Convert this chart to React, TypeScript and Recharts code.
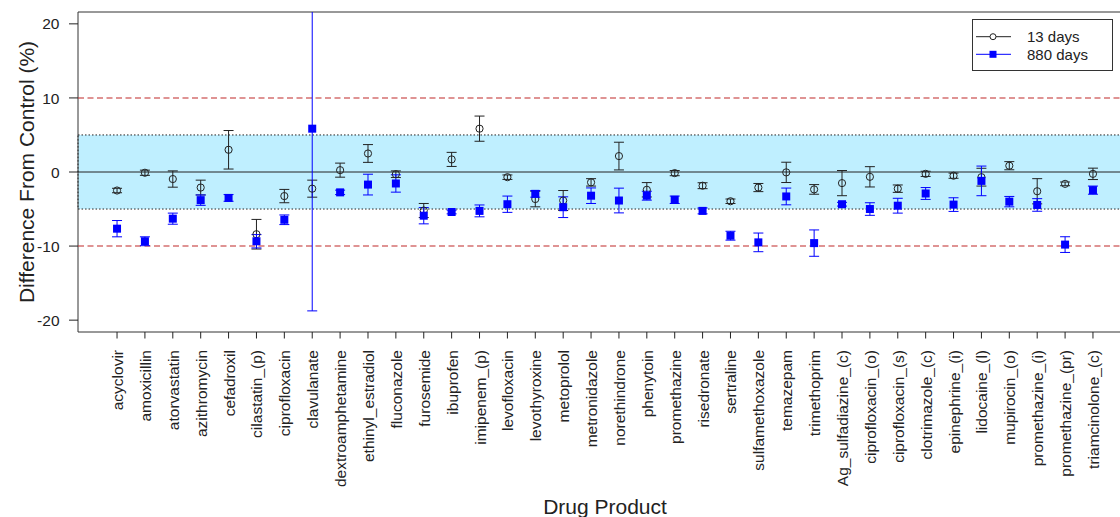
import {
  ComposedChart, Scatter, ErrorBar, XAxis, YAxis, ReferenceArea, ReferenceLine, Legend,
} from 'recharts'

const FONT = '"Liberation Sans", Arial, sans-serif'
const INK = '#222'
const BLUE = '#0000FF'
const BAND = '#BFEFFF'
const LIMIT_RED = '#C02828'

const drugs = [
  'acyclovir', 'amoxicillin', 'atorvastatin', 'azithromycin', 'cefadroxil', 'cilastatin_(p)',
  'ciprofloxacin', 'clavulanate', 'dextroamphetamine', 'ethinyl_estradiol', 'fluconazole', 'furosemide',
  'ibuprofen', 'imipenem_(p)', 'levofloxacin', 'levothyroxine', 'metoprolol', 'metronidazole',
  'norethindrone', 'phenytoin', 'promethazine', 'risedronate', 'sertraline', 'sulfamethoxazole',
  'temazepam', 'trimethoprim', 'Ag_sulfadiazine_(c)', 'ciprofloxacin_(o)', 'ciprofloxacin_(s)', 'clotrimazole_(c)',
  'epinephrine_(i)', 'lidocaine_(l)', 'mupirocin_(o)', 'promethazine_(i)', 'promethazine_(pr)', 'triamcinolone_(c)',
]

// 13 days: mean difference and error half-width (%)
const mean13 = [
  -2.5, -0.1, -0.95, -2.1, 3.0, -8.4,
  -3.25, -2.25, 0.25, 2.5, -0.3, -5.2,
  1.7, 5.85, -0.7, -3.65, -3.85, -1.4,
  2.15, -2.4, -0.15, -1.85, -3.95, -2.1,
  -0.05, -2.35, -1.5, -0.65, -2.25, -0.25,
  -0.5, -0.7, 0.85, -2.6, -1.6, -0.25,
]
const err13 = [
  0.3, 0.35, 1.1, 1.0, 2.6, 2.0,
  0.9, 1.15, 0.95, 1.2, 0.45, 0.95,
  0.95, 1.7, 0.3, 1.05, 1.35, 0.5,
  1.87, 0.97, 0.35, 0.4, 0.3, 0.55,
  1.37, 0.65, 1.7, 1.37, 0.5, 0.35,
  0.35, 1.2, 0.55, 1.7, 0.25, 0.77,
]

// 880 days
const mean880 = [
  -7.65, -9.35, -6.3, -3.8, -3.5, -9.35,
  -6.45, 5.85, -2.75, -1.7, -1.55, -5.9,
  -5.4, -5.25, -4.35, -2.95, -4.75, -3.2,
  -3.85, -3.2, -3.75, -5.25, -8.6, -9.5,
  -3.3, -9.6, -4.35, -5.0, -4.55, -2.9,
  -4.4, -1.2, -4.0, -4.45, -9.8, -2.45,
]
const err880 = [
  1.1, 0.6, 0.75, 0.7, 0.45, 0.9,
  0.65, 24.6, 0.3, 1.4, 1.17, 1.1,
  0.25, 0.8, 1.1, 0.45, 1.4, 1.05,
  1.67, 0.6, 0.5, 0.4, 0.6, 1.26,
  1.13, 1.78, 0.25, 0.85, 1.0, 0.8,
  0.92, 2.0, 0.7, 0.85, 1.06, 0.55,
]

const yTicks = [-20, -10, 0, 10, 20]

const rows = drugs.map((name, i) => ({
  x: i + 1, name,
  m13: mean13[i], e13: err13[i],
  m880: mean880[i], e880: err880[i],
}))
const xTicks = rows.map(r => r.x)

const XTick = ({ x, y, payload }: any) => (
  <text x={x + 6} y={y} transform={`rotate(-90, ${x + 6}, ${y})`} textAnchor="end"
    fontFamily={FONT} fontSize={15.5} fill={INK}>
    {drugs[payload.value - 1]}
  </text>
)

const YTick = ({ x, y, payload }: any) => (
  <text x={x} y={y} dy="0.36em" textAnchor="end" fontFamily={FONT} fontSize={15.5} fill={INK}>
    {payload.value}
  </text>
)

const OpenCircle = ({ cx, cy }: any) => (
  <circle cx={cx} cy={cy} r={3.6} fill="none" stroke={INK} strokeWidth={1} />
)
const FilledSquare = ({ cx, cy }: any) => (
  <rect x={cx - 4} y={cy - 4} width={8} height={8} fill={BLUE} />
)

const LegendBox = () => (
  <svg width={142} height={53}>
    <rect x={0.5} y={0.5} width={140} height={51} fill="#fff" stroke="#333" strokeWidth={1} />
    <line x1={4} x2={39} y1={17.7} y2={17.7} stroke={INK} strokeWidth={1} />
    <circle cx={21} cy={17.7} r={3} fill="#fff" stroke={INK} strokeWidth={1} />
    <text x={55} y={17.7} dy="0.36em" fontFamily={FONT} fontSize={15} fill={INK}>13 days</text>
    <line x1={4} x2={39} y1={35.3} y2={35.3} stroke={BLUE} strokeWidth={1} />
    <rect x={17.5} y={31.8} width={7} height={7} fill={BLUE} />
    <text x={55} y={35.3} dy="0.36em" fontFamily={FONT} fontSize={15} fill={INK}>880 days</text>
  </svg>
)

// error bars are clipped to the plot box, like R does (clavulanate runs off the top)
const clipCss = '.recharts-errorBar, .recharts-errorBars { clip-path: url(#plot-box-clip); }'

export default function App() {
  return (
    <div style={{ position: 'absolute', left: 0, top: 0, width: 1120, height: 517, overflow: 'hidden', background: '#fff' }}>
      <style>{clipCss}</style>
      <ComposedChart width={1140} height={517} data={rows} margin={{ top: 12, right: 8, bottom: 0, left: 0 }}>
        <defs>
          <clipPath id="plot-box-clip">
            <rect x={78} y={12} width={1054} height={320} />
          </clipPath>
        </defs>
        <XAxis dataKey="x" type="number" domain={[-0.4, 37.4]} ticks={xTicks} interval={0}
          tick={<XTick />} tickSize={6.5} tickMargin={11.5} tickLine={{ stroke: INK }} axisLine={false} height={185}
          label={{
            content: ({ viewBox }: any) => (
              <text x={viewBox.x + viewBox.width / 2} y={viewBox.y + viewBox.height - 3} textAnchor="middle"
                fontFamily={FONT} fontSize={21} fill={INK}>Drug Product</text>
            ),
          }} />
        <YAxis type="number" domain={[-21.6, 21.6]} ticks={yTicks} allowDataOverflow
          tick={<YTick />} tickSize={9} tickMargin={9.5} tickLine={{ stroke: INK }} axisLine={false} width={78}
          label={{
            content: ({ viewBox }: any) => {
              const cy = viewBox.y + viewBox.height / 2
              return (
                <text x={34} y={cy} transform={`rotate(-90, 34, ${cy})`} textAnchor="middle"
                  fontFamily={FONT} fontSize={21} fill={INK}>Difference From Control (%)</text>
              )
            },
          }} />
        <ReferenceArea y1={-5} y2={5} fill={BAND} fillOpacity={1} stroke={INK} strokeDasharray="1.5 2" strokeWidth={1} />
        <ReferenceLine y={10} stroke={LIMIT_RED} strokeDasharray="6 3.5" strokeWidth={1.1} />
        <ReferenceLine y={-10} stroke={LIMIT_RED} strokeDasharray="6 3.5" strokeWidth={1.1} />
        <ReferenceLine y={0} stroke={INK} strokeWidth={1} />
        <ReferenceArea x1={-0.4} x2={37.4} y1={-21.6} y2={21.6} fill="none" stroke="#333" strokeWidth={1} />
        <Scatter name="13 days" dataKey="m13" shape={<OpenCircle />} isAnimationActive={false}>
          <ErrorBar dataKey="e13" direction="y" width={5} stroke={INK} strokeWidth={1} isAnimationActive={false} />
        </Scatter>
        <Scatter name="880 days" dataKey="m880" shape={<FilledSquare />} isAnimationActive={false}>
          <ErrorBar dataKey="e880" direction="y" width={5} stroke={BLUE} strokeWidth={1} isAnimationActive={false} />
        </Scatter>
        <Legend layout="vertical" align="center" verticalAlign="middle" content={<LegendBox />}
          wrapperStyle={{ left: 972, top: 19, width: 142, height: 53 }} />
      </ComposedChart>
    </div>
  )
}
